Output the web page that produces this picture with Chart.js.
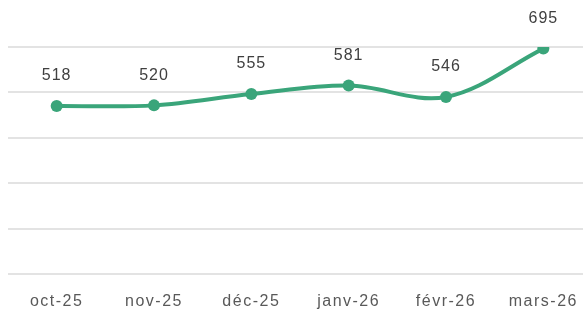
<!DOCTYPE html>
<html>
<head>
<meta charset="utf-8">
<script src="https://cdn.jsdelivr.net/npm/chart.js@4"></script>
<style>
    html, body { margin: 0; padding: 0; background: #fff; overflow: hidden; }
    #wrap { width: 592px; height: 310px; }
</style>
</head>
<body>
<div id="wrap"><canvas id="lineChart"></canvas></div>
<script>
/* ===== DATA ===== */
const months = ['oct-25', 'nov-25', 'déc-25', 'janv-26', 'févr-26', 'mars-26'];
const values = [518, 520, 555, 581, 546, 695];
const yTicks = [0, 140, 280, 420, 560, 700];

const lineColor = '#3aa57a';
const fontFamily = '"Liberation Sans", Arial, sans-serif';

/* ===== PLUGINS ===== */

// keep wider letter spacing for all canvas text
const spacing = {
    id: 'spacing',
    beforeDraw(chart) { chart.ctx.letterSpacing = '1.5px'; }
};

// value labels drawn above each point
const valueLabels = {
    id: 'valueLabels',
    afterDatasetsDraw(chart) {
        const ctx = chart.ctx;
        const meta = chart.getDatasetMeta(0);
        ctx.save();
        ctx.font = '16px ' + fontFamily;
        ctx.letterSpacing = '1px';
        ctx.fillStyle = '#404040';
        ctx.textAlign = 'center';
        ctx.textBaseline = 'middle';
        meta.data.forEach((pt, i) => {
            ctx.fillText(String(values[i]), pt.x, pt.y - 30);
        });
        ctx.restore();
    }
};

/* ===== CHART ===== */
const ctx = document.getElementById('lineChart').getContext('2d');

new Chart(ctx, {
    type: 'line',
    data: {
        labels: months,
        datasets: [{
            data: values,
            borderColor: lineColor,
            backgroundColor: lineColor,
            borderWidth: 4,
            tension: 0.35,
            pointRadius: 6,
            pointHoverRadius: 6,
            pointBorderWidth: 0
        }]
    },
    options: {
        responsive: true,
        maintainAspectRatio: false,
        animation: false,
        layout: { autoPadding: false, padding: { top: 47, left: 8, right: 0, bottom: 0 } },
        plugins: {
            legend: { display: false },
            tooltip: { enabled: false }
        },
        scales: {
            x: {
                offset: true,
                grid: { display: false, drawTicks: false },
                border: { display: false },
                afterFit: axis => { axis.height = 36; },
                ticks: {
                    color: '#595959',
                    padding: 18,
                    font: { size: 16, family: fontFamily }
                }
            },
            y: {
                min: yTicks[0],
                max: yTicks[yTicks.length - 1],
                afterBuildTicks: axis => { axis.ticks = yTicks.map(v => ({ value: v })); },
                afterFit: axis => { axis.width = 0; },
                grid: { color: '#e3e3e3', lineWidth: 2, drawTicks: false },
                border: { display: false },
                ticks: { display: false }
            }
        }
    },
    plugins: [spacing, valueLabels]
});
</script>
</body>
</html>
